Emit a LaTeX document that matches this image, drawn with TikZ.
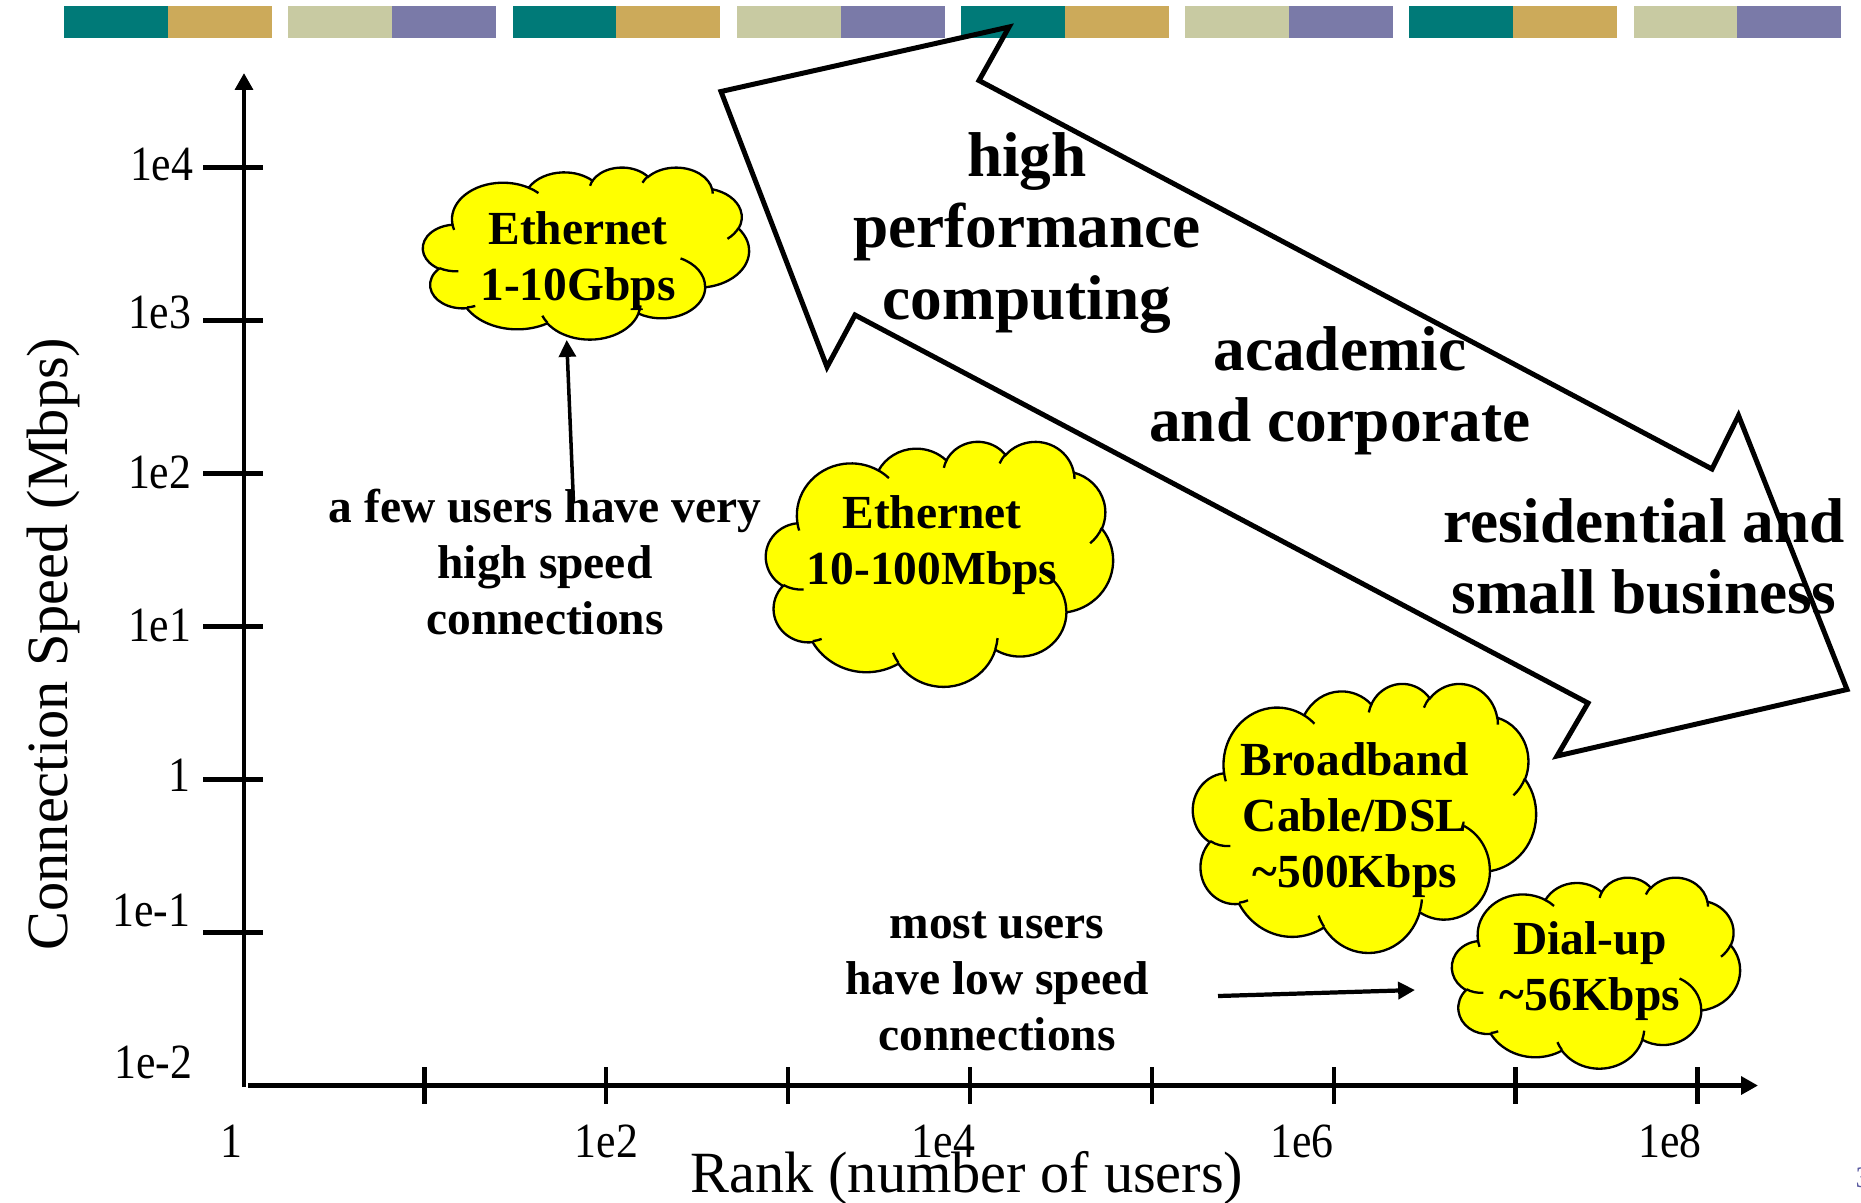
\documentclass[tikz,border=0pt]{standalone}
\usepackage{fontspec}
\setmainfont{Liberation Serif}
\usepackage{graphicx}
\usetikzlibrary{arrows.meta}

\definecolor{bteal}{RGB}{0,122,120}
\definecolor{bgold}{RGB}{204,170,90}
\definecolor{bsage}{RGB}{200,202,162}
\definecolor{bpurp}{RGB}{122,122,168}
\definecolor{cyel}{RGB}{255,255,0}
\definecolor{pgnum}{RGB}{90,90,160}

% visual (DrawingML) angles -> parametric angles
\newcommand\arcdef[5]{%
  \pgfmathsetmacro\tmpts{atan2((#2)*sin(#4),(#3)*cos(#4))}%
  \pgfmathsetmacro\tmpte{atan2((#2)*sin(#4+#5),(#3)*cos(#4+#5))}%
  \pgfmathsetmacro\tmpd{mod(\tmpte-\tmpts+720,360)}%
  \expandafter\xdef\csname cs#1\endcsname{\tmpts}%
  \expandafter\xdef\csname cd#1\endcsname{\tmpd}%
}
\arcdef{ma}{67.53}{91.90}{-190.4875}{123.7805}
\arcdef{mb}{53.33}{72.67}{-144.1024}{89.9452}
\arcdef{mc}{43.65}{59.45}{-145.8079}{99.7230}
\arcdef{md}{48.57}{65.95}{-130.9861}{117.2417}
\arcdef{me}{53.33}{72.73}{-78.7089}{109.0269}
\arcdef{mf}{67.75}{92.20}{-46.2673}{130.2690}
\arcdef{mg}{57.85}{78.67}{0.6250}{114.0333}
\arcdef{mh}{67.52}{92.15}{22.4516}{115.1726}
\arcdef{mi}{77.20}{105.43}{66.2426}{75.7110}
\arcdef{mj}{43.60}{59.18}{-274.9421}{146.7356}
\arcdef{mk}{43.45}{59.45}{-246.8285}{152.5189}
\arcdef{ia}{43.45}{59.45}{86.7420}{26.4295}
\arcdef{ib}{43.60}{59.18}{73.6105}{11.4475}
\arcdef{ic}{67.52}{92.15}{137.6242}{14.0811}
\arcdef{id}{67.52}{92.15}{6.4533}{15.9984}
\arcdef{ie}{57.85}{78.67}{-70.2924}{70.9174}
\arcdef{if}{53.33}{72.73}{30.3180}{27.7515}
\arcdef{ig}{48.57}{65.95}{-13.7443}{14.8589}
\arcdef{ih}{48.57}{65.95}{-149.1815}{18.1954}
\arcdef{ii}{43.65}{59.45}{-163.4943}{17.6864}
\arcdef{ij}{67.53}{91.90}{-66.7070}{12.3194}
\arcdef{ik}{67.53}{91.90}{157.6544}{11.8582}

\newcommand\carc[3]{arc[start angle=\csname cs#1\endcsname, delta angle=\csname cd#1\endcsname, x radius=#2, y radius=#3]}

\newcommand\pcloud[4]{%
  \pgfmathsetmacro\csx{#3/432}\pgfmathsetmacro\csy{#4/432}%
  \begin{scope}[shift={(#1,#2)},xscale=\csx,yscale=\csy]
    \filldraw[fill=cyel, cloudline] (39.00,143.70) \carc{ma}{67.53}{91.90} \carc{mb}{53.33}{72.67}
      \carc{mc}{43.65}{59.45} \carc{md}{48.57}{65.95} \carc{me}{53.33}{72.73}
      \carc{mf}{67.75}{92.20} \carc{mg}{57.85}{78.67} \carc{mh}{67.52}{92.15}
      \carc{mi}{77.20}{105.43} \carc{mj}{43.60}{59.18} \carc{mk}{43.45}{59.45} -- cycle;
    \draw[cloudline] (46.93,261.77) \carc{ia}{43.45}{59.45}
      (69.28,348.99) \carc{ib}{43.60}{59.18}
      (164.78,390.90) \carc{ic}{67.52}{92.15}
      (288.27,347.51) \carc{id}{67.52}{92.15}
      (341.29,229.54) \carc{ie}{57.85}{78.67}
      (417.98,153.54) \carc{if}{53.33}{72.73}
      (383.24,54.26) \carc{ig}{48.57}{65.95}
      (290.78,39.52) \carc{ih}{48.57}{65.95}
      (221.41,47.20) \carc{ii}{43.65}{59.45}
      (140.00,51.92) \carc{ij}{67.53}{91.90}
      (41.27,157.89) \carc{ik}{67.53}{91.90};
  \end{scope}}

\newcommand\ml[1]{\begin{tabular}[t]{@{}c@{}}#1\end{tabular}}
\newcommand\tl[1]{\scalebox{0.89}[1]{#1}}

\begin{document}
\begin{tikzpicture}[x=0.01cm,y=-0.01cm,
  big/.style={font=\bfseries\fontsize{18}{20.4}\selectfont, inner sep=0, anchor=base},
  mid/.style={font=\bfseries\fontsize{13.5}{16}\selectfont, inner sep=0, anchor=base},
  ticklab/.style={font=\fontsize{14}{16}\selectfont, inner sep=0},
  axtitle/.style={font=\fontsize{16.6}{19}\selectfont, inner sep=0, anchor=base},
  axisline/.style={line width=1.28pt, -{Triangle[length=4.8pt,width=5pt]}},
  tickmark/.style={line width=1.28pt},
  bigarrow/.style={line width=1.42pt, line join=miter},
  thinarrow/.style={line width=1pt, -{Triangle[length=4.8pt,width=4.8pt]}},
  cloudline/.style={line width=0.66pt, draw=black},
]
\useasboundingbox (0,0) rectangle (1861,1202);

% top colour bar
\foreach \i in {0,...,7}{
  \pgfmathsetmacro\bx{64.1+224.2*\i}
  \ifodd\i \def\barA{bsage}\def\barB{bpurp}\else\def\barA{bteal}\def\barB{bgold}\fi
  \fill[\barA] (\bx,6) rectangle ++(103.9,31.7);
  \fill[\barB] (\bx+103.9,6) rectangle ++(103.9,31.7);
}

% axes
\coordinate (ybot) at (244,1087);
\coordinate (ytop) at (244,73);
\coordinate (xstart) at (248,1085.5);
\coordinate (xend) at (1758,1085.5);
\draw[axisline] (ybot) -- (ytop);
\draw[axisline] (xstart) -- (xend);

\foreach \y in {167.7,320.7,473.7,626.7,779.7,932.7}{
  \draw[tickmark] (203,\y) -- (263,\y);
}
\foreach \k in {0,...,7}{
  \draw[tickmark] (424.3+181.9*\k,1067) -- (424.3+181.9*\k,1104);
}

% tick labels
\node[ticklab, anchor=base east] (yl4) at (194,180) {\tl{1e4}};
\node[ticklab, anchor=base east] (yl3) at (192,328) {\tl{1e3}};
\node[ticklab, anchor=base east] (yl2) at (192,488) {\tl{1e2}};
\node[ticklab, anchor=base east] (yl1) at (192,641) {\tl{1e1}};
\node[ticklab, anchor=base east] (yl0) at (191,791.7) {\tl{1}};
\node[ticklab, anchor=base east] (ylm1) at (191,926.7) {\tl{1e-1}};
\node[ticklab, anchor=base east] (ylm2) at (193,1078) {\tl{1e-2}};

\node[ticklab, anchor=base] (xl0) at (231.7,1157) {\tl{1}};
\node[ticklab, anchor=base] (xl2) at (606.5,1157) {\tl{1e2}};
\node[ticklab, anchor=base] (xl4) at (943.6,1157) {\tl{1e4}};
\node[ticklab, anchor=base] (xl6) at (1302,1157) {\tl{1e6}};
\node[ticklab, anchor=base] (xl8) at (1670,1157) {\tl{1e8}};

% axis titles
\node[axtitle, rotate=90] (ytitle) at (67.7,644) {Connection Speed (Mbps)};
\node[axtitle] (xtitle) at (967,1192) {Rank (number of users)};

% big double block arrow
\draw[bigarrow] (721,91.5) -- (1009,27) -- (979,80.5) -- (1712,469) -- (1738.5,415.5)
  -- (1847,689.5) -- (1557,756) -- (1588,703) -- (855,315) -- (827,367) -- cycle;

% clouds
\pcloud{423}{167}{326}{172}
\pcloud{766}{441}{347}{245}
\pcloud{1193}{683}{343}{269}
\pcloud{1452}{877}{288}{191}

\node[mid] (c1) at (578,244) {\ml{Ethernet\\1-10Gbps}};
\node[mid] (c2) at (932,528) {\ml{Ethernet\\10-100Mbps}};
\node[mid] (c3) at (1355,775) {\ml{Broadband\\Cable/DSL\\\textasciitilde500Kbps}};
\node[mid] (c4) at (1590,954) {\ml{Dial-up\\\textasciitilde56Kbps}};

% region labels
\node[big] (hpc) at (1027,176) {\ml{high\\performance\\computing}};
\node[big] (acad) at (1340,370) {\ml{academic\\and corporate}};
\node[big] (res) at (1644,542) {\ml{residential and\\small business}};

% annotations and arrows
\node[mid] (few) at (545,522) {\ml{a few users have very\\high speed\\connections}};
\node[mid] (most) at (997,938) {\ml{most users\\have low speed\\connections}};

\coordinate (fewA) at (573.5,503);
\coordinate (fewB) at (566.7,340);
\draw[thinarrow] (fewA) -- (fewB);
\coordinate (mostA) at (1218,996);
\coordinate (mostB) at (1415,990);
\draw[thinarrow, line width=1.2pt] (mostA) -- (mostB);

\node[font=\fontsize{8.5}{10}\selectfont, text=pgnum, anchor=base west, inner sep=0] (pnum) at (1855,1187) {3};
\end{tikzpicture}
\end{document}
